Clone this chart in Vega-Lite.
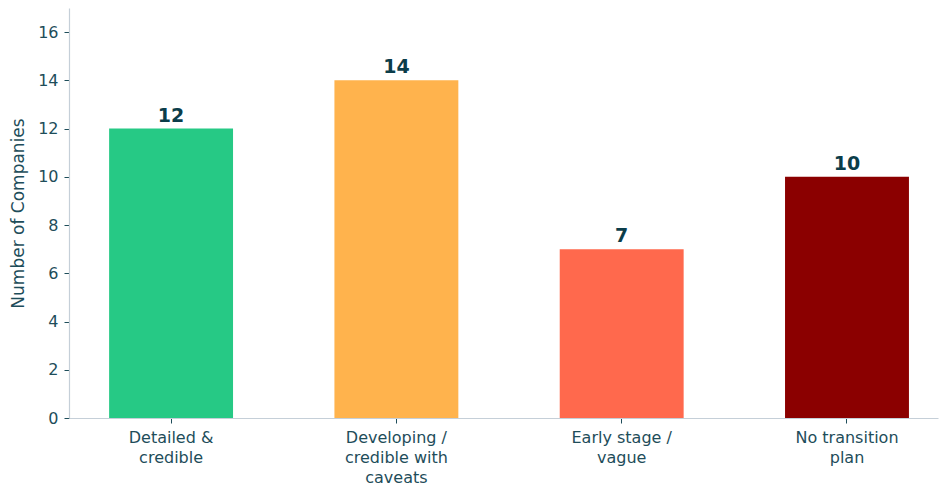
{
  "$schema": "https://vega.github.io/schema/vega-lite/v6.json",
  "autosize": {"type": "none"},
  "width": 869,
  "height": 410,
  "padding": {"left": 69, "top": 8, "right": 2, "bottom": 70},
  "background": "white",
  "config": {
    "view": {"stroke": null},
    "font": "DejaVu Sans"
  },
  "data": {
    "values": [
      {"category": "Detailed & credible", "count": 12, "color": "#26c985"},
      {"category": "Developing / credible with caveats", "count": 14, "color": "#ffb34d"},
      {"category": "Early stage / vague", "count": 7, "color": "#ff694d"},
      {"category": "No transition plan", "count": 10, "color": "#8b0000"}
    ]
  },
  "encoding": {
    "x": {
      "field": "category",
      "type": "nominal",
      "sort": null,
      "scale": {"paddingInner": 0.45, "paddingOuter": 0.1535, "align": 0.58},
      "axis": {
        "title": null,
        "labelAngle": 0,
        "labelFont": "DejaVu Sans",
        "labelFontSize": 16,
        "labelColor": "#1e4d5a",
        "labelLineHeight": 20,
        "labelPadding": 6,
        "labelExpr": "datum.label == 'Detailed & credible' ? ['Detailed &', 'credible'] : datum.label == 'Developing / credible with caveats' ? ['Developing /', 'credible with', 'caveats'] : datum.label == 'Early stage / vague' ? ['Early stage /', 'vague'] : ['No transition', 'plan']",
        "domainColor": "#c5cfd8",
        "domainWidth": 1.2,
        "tickColor": "#1e4d5a",
        "tickSize": 5,
        "grid": false
      }
    },
    "y": {
      "field": "count",
      "type": "quantitative",
      "scale": {"domain": [0, 17], "nice": false},
      "axis": {
        "title": "Number of Companies",
        "titleFont": "DejaVu Sans",
        "titleFontSize": 17,
        "titleFontWeight": "normal",
        "titleColor": "#1e4d5a",
        "titlePadding": 10,
        "values": [0, 2, 4, 6, 8, 10, 12, 14, 16],
        "labelFont": "DejaVu Sans",
        "labelFontSize": 16,
        "labelColor": "#1e4d5a",
        "labelPadding": 6,
        "domainColor": "#c5cfd8",
        "domainWidth": 1.2,
        "tickColor": "#1e4d5a",
        "tickSize": 5,
        "grid": false
      }
    }
  },
  "layer": [
    {
      "mark": {"type": "bar"},
      "encoding": {
        "color": {"field": "color", "type": "nominal", "scale": null, "legend": null}
      }
    },
    {
      "mark": {"type": "text", "baseline": "bottom", "dy": -3, "fontSize": 19, "fontWeight": "bold", "color": "#0b3d4a", "font": "DejaVu Sans"},
      "encoding": {
        "text": {"field": "count", "type": "quantitative"}
      }
    }
  ]
}
